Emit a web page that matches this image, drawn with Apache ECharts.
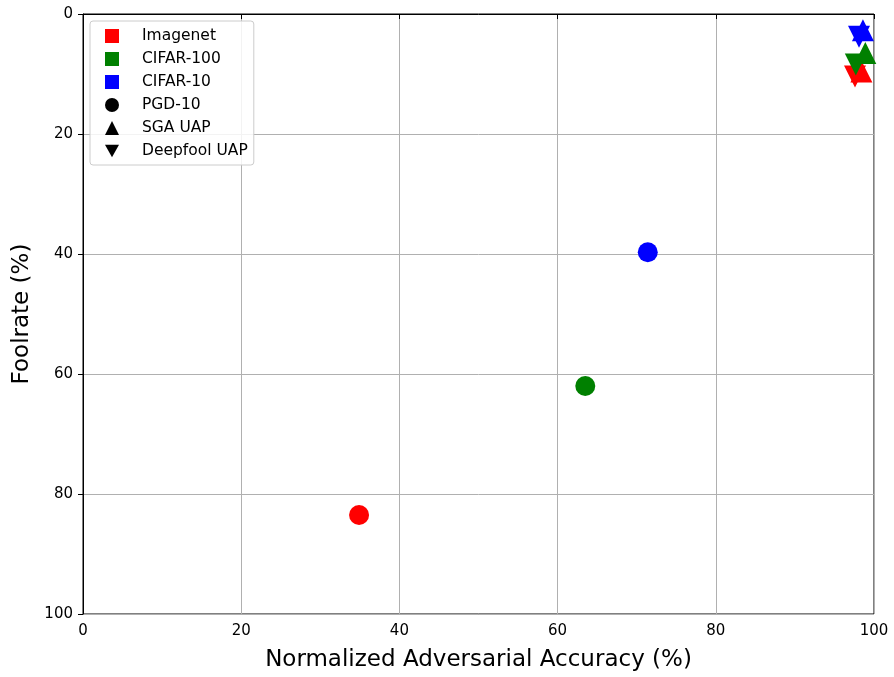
<!DOCTYPE html>
<html>
<head>
<meta charset="utf-8">
<script src="https://cdn.jsdelivr.net/npm/echarts@6/dist/echarts.min.js"></script>
<style>html,body{margin:0;padding:0;background:#fff}#c{width:894px;height:677px}</style>
</head>
<body>
<div id="c"></div>
<script>
const datasets = ['Imagenet', 'CIFAR-100', 'CIFAR-10'];
const datasetColors = ['#ff0000', '#008000', '#0000ff'];
const attacks = ['PGD-10', 'SGA UAP', 'Deepfool UAP'];
const xTicks = [0, 20, 40, 60, 80, 100];
const yTicks = [0, 20, 40, 60, 80, 100];
// per dataset, per attack [PGD-10, SGA UAP, Deepfool UAP]
const imagenetAcc = [34.9, 98.4, 97.6];
const imagenetFool = [83.5, 9.6, 10.4];
const cifar100Acc = [63.5, 98.9, 97.7];
const cifar100Fool = [62.0, 6.5, 8.4];
const cifar10Acc = [71.4, 98.6, 98.1];
const cifar10Fool = [39.7, 2.7, 3.8];

const accs = [imagenetAcc, cifar100Acc, cifar10Acc];
const fools = [imagenetFool, cifar100Fool, cifar10Fool];
const attackSymbols = ['circle', 'triangle', 'triangle'];
const attackRotate = [0, 0, 180];
const attackSizes = [20, 22, 22];
const downTri = 'path://M0,0 L10,0 L5,9 Z';

const series = [];
datasets.forEach((d, i) => {
  series.push({
    name: d, type: 'scatter', z: 3 + i,
    itemStyle: { color: datasetColors[i], opacity: 1 },
    data: attacks.map((a, j) => ({
      value: [accs[i][j], fools[i][j]],
      symbol: attackSymbols[j],
      symbolRotate: attackRotate[j],
      symbolSize: attackSizes[j]
    }))
  });
});
attacks.forEach((a) => {
  series.push({ name: a, type: 'scatter', data: [], itemStyle: { color: '#000' } });
});

const legendIcons = ['rect', 'rect', 'rect', 'circle', 'triangle', downTri];
const legendColors = datasetColors.concat(['#000', '#000', '#000']);
const legendNames = datasets.concat(attacks);

const chart = echarts.init(document.getElementById('c'));
chart.setOption({
  animation: false,
  backgroundColor: '#fff',
  textStyle: { fontFamily: 'DejaVu Sans' },
  grid: { left: 83, right: 20, top: 14, bottom: 63, show: true, borderColor: '#000', borderWidth: 1, containLabel: false },
  legend: {
    orient: 'vertical', left: 90, top: 21,
    data: legendNames.map((n, k) => ({ name: n, icon: legendIcons[k], itemStyle: { color: legendColors[k], opacity: 1 } })),
    itemWidth: 14, itemHeight: 14, itemGap: 7,
    padding: [7, 6, 6, 15],
    backgroundColor: 'rgba(255,255,255,0.85)',
    borderColor: '#cccccc', borderWidth: 1, borderRadius: 3,
    textStyle: { fontSize: 15.5, color: '#000', padding: [0, 0, 0, 18], fontFamily: 'DejaVu Sans' },
    selectedMode: false
  },
  xAxis: {
    type: 'value', min: xTicks[0], max: xTicks[xTicks.length - 1], interval: 20,
    name: 'Normalized Adversarial Accuracy (%)', nameLocation: 'middle', nameGap: 35,
    nameTextStyle: { fontSize: 23, color: '#000', fontFamily: 'DejaVu Sans' },
    axisLine: { show: true, lineStyle: { color: '#000', width: 1 } },
    axisTick: { show: true, length: 5, lineStyle: { color: '#000' } },
    axisLabel: { fontSize: 15, color: '#000', margin: 10 },
    splitLine: { show: true, lineStyle: { color: '#b0b0b0', width: 1 } }
  },
  yAxis: {
    type: 'value', inverse: true, min: yTicks[0], max: yTicks[yTicks.length - 1], interval: 20,
    name: 'Foolrate (%)', nameLocation: 'middle', nameGap: 43, nameRotate: 90,
    nameTextStyle: { fontSize: 23, color: '#000', fontFamily: 'DejaVu Sans' },
    axisLine: { show: true, lineStyle: { color: '#000', width: 1 } },
    axisTick: { show: true, length: 5, lineStyle: { color: '#000' } },
    axisLabel: { fontSize: 15, color: '#000', margin: 10 },
    splitLine: { show: true, lineStyle: { color: '#b0b0b0', width: 1 } }
  },
  series: series
});
</script>
</body>
</html>
